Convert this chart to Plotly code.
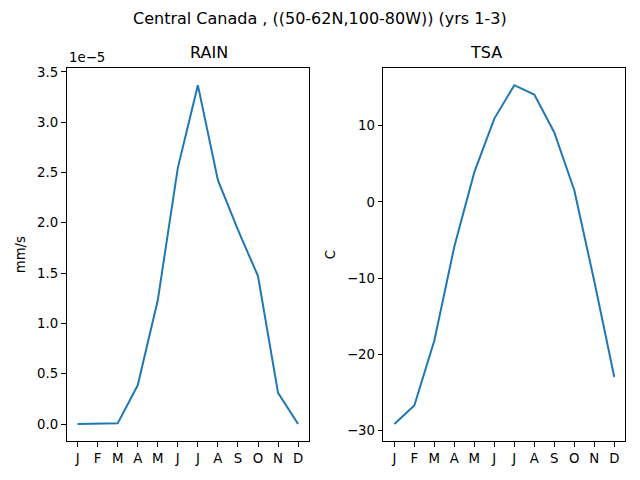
import plotly.graph_objects as go

# Monthly climatology, Central Canada (yrs 1-3)
months = ["J", "F", "M", "A", "M", "J", "J", "A", "S", "O", "N", "D"]
month_idx = list(range(12))
rain = [0.0, 0.0, 0.007e-5, 0.385e-5, 1.23e-5, 2.546e-5,
        3.368e-5, 2.424e-5, 1.93e-5, 1.47e-5, 0.31e-5, 0.0]
tsa = [-29.13, -26.7, -18.17, -5.85, 3.9, 10.92,
       15.3, 14.08, 9.1, 1.52, -10.4, -22.97]

rain_ticks = [0.0, 0.5e-5, 1.0e-5, 1.5e-5, 2.0e-5, 2.5e-5, 3.0e-5, 3.5e-5]
rain_ticktext = ["0.0", "0.5", "1.0", "1.5", "2.0", "2.5", "3.0", "3.5"]
tsa_ticks = [-30, -20, -10, 0, 10]

blue = "#1f77b4"
font = "DejaVu Sans"

fig = go.Figure()
fig.add_trace(go.Scatter(x=month_idx, y=rain, mode="lines",
                         line=dict(color=blue, width=2), xaxis="x", yaxis="y"))
fig.add_trace(go.Scatter(x=month_idx, y=tsa, mode="lines",
                         line=dict(color=blue, width=2), xaxis="x2", yaxis="y2"))

axis_style = dict(showline=True, linecolor="black", linewidth=1, mirror=True,
                  ticks="outside", ticklen=4.7, tickwidth=1, tickcolor="black",
                  showgrid=False, zeroline=False,
                  tickfont=dict(family=font, size=13.3, color="black"))

fig.update_layout(
    width=640, height=480,
    margin=dict(l=0, r=0, t=0, b=0),
    plot_bgcolor="white", paper_bgcolor="white",
    showlegend=False,
    font=dict(family=font, color="black"),
    xaxis=dict(domain=[0.104, 0.483], range=[-0.55, 11.55],
               tickvals=month_idx, ticktext=months, anchor="y", **axis_style),
    yaxis=dict(domain=[0.082, 0.865], range=[-0.168e-5, 3.536e-5],
               tickvals=rain_ticks, ticktext=rain_ticktext, anchor="x",
               title=dict(text="mm/s", font=dict(family=font, size=13.3), standoff=8),
               **axis_style),
    xaxis2=dict(domain=[0.599, 0.977], range=[-0.55, 11.55],
                tickvals=month_idx, ticktext=months, anchor="y2", **axis_style),
    yaxis2=dict(domain=[0.082, 0.865], range=[-31.35, 17.52],
                tickvals=tsa_ticks, anchor="x2",
                title=dict(text="C", font=dict(family=font, size=13.3), standoff=8),
                **axis_style),
    annotations=[
        dict(text="Central Canada , ((50-62N,100-80W)) (yrs 1-3)", x=0.5, y=1 - 15 / 480,
             xref="paper", yref="paper", yanchor="middle", showarrow=False,
             font=dict(family=font, size=16)),
        dict(text="RAIN", x=(0.104 + 0.483) / 2, y=0.865, xref="paper", yref="paper",
             yanchor="bottom", yshift=4, showarrow=False, font=dict(family=font, size=16)),
        dict(text="TSA", x=(0.599 + 0.977) / 2, y=0.865, xref="paper", yref="paper",
             yanchor="bottom", yshift=4, showarrow=False, font=dict(family=font, size=16)),
        dict(text="1e\u22125", x=0.104, y=0.865, xref="paper", yref="paper",
             xanchor="left", yanchor="bottom", yshift=1, showarrow=False,
             font=dict(family=font, size=13.3)),
    ],
)

# drop the default page margin so the figure sits at the window's corner
fig.write_html("out.html", config={"displayModeBar": False},
               post_script="document.body.style.margin='0';")
